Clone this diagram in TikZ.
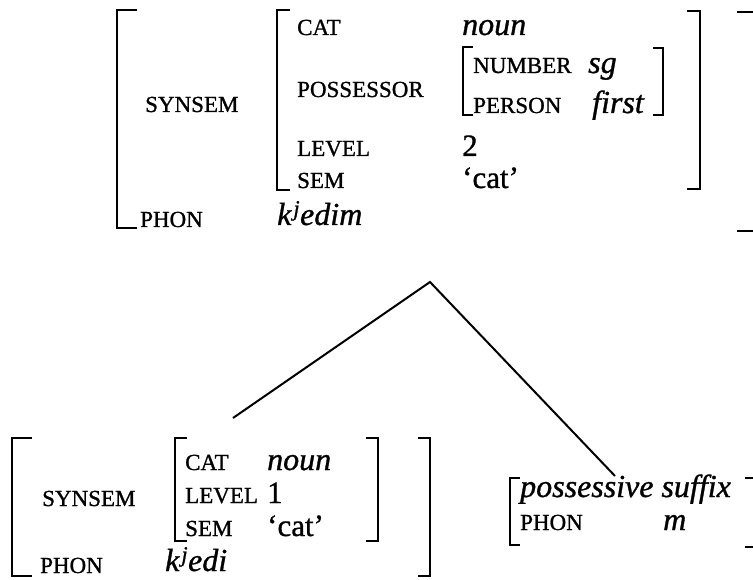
\documentclass[tikz,border=0pt]{standalone}
\usepackage{fontspec}
\setmainfont{Liberation Serif}[FakeBold=1]
\begin{document}
\begin{tikzpicture}[x=1pt, y=-1pt,
        lab/.style={anchor=base west, inner sep=0pt, font=\fontsize{23}{26}\selectfont},
        val/.style={anchor=base west, inner sep=0pt, font=\fontsize{32}{36}\selectfont\itshape},
        rom/.style={anchor=base west, inner sep=0pt, font=\fontsize{31}{34}\selectfont},
        brk/.style={line width=2.6pt},
        branch/.style={line width=2pt}]
        \useasboundingbox (0,0) rectangle (753,580);
        \clip (0,0) rectangle (753,580);
        % mother sign
        \node[lab] (synsem) at (145,112) {SYNSEM};
        \node[lab] (phon) at (140,227) {PHON};
        \node[val] (form) at (277,225) {k\kern2pt\textsuperscript{j}edim};
        \node[lab] (cat) at (297,35) {CAT};
        \node[lab] (poss) at (297,97) {POSSESSOR};
        \node[lab] (level) at (297,156) {LEVEL};
        \node[lab] (sem) at (297,188) {SEM};
        \node[val] (noun) at (462,35) {noun};
        \node[lab] (number) at (473,73) {NUMBER};
        \node[val] (sg) at (588,73) {sg};
        \node[lab] (person) at (473,113) {PERSON};
        \node[val] (first) at (592,113) {first};
        \node[rom] (two) at (462,156) {2};
        \node[rom] (meaning) at (462,188) {`cat'};
        % left brackets: x/top/bottom/tick
        \foreach \x/\t/\b/\w in {117/10/228/20, 277/10/190/13, 463/47/115/10, 12/438/576/20, 175/438/541/12, 510/478/545/10} {
            \draw[brk] (\x+\w,\t) -- (\x,\t) -- (\x,\b) -- (\x+\w,\b);
        }
        % right brackets
        \foreach \x/\t/\b/\w in {763/12/231/26, 700/11/189/13, 663/48/115/10, 430/438/576/12, 378/438/541/12, 763/478/547/18} {
            \draw[brk] (\x-\w,\t) -- (\x,\t) -- (\x,\b) -- (\x-\w,\b);
        }
        % stem daughter
        \node[lab] (synsem1) at (42,506) {SYNSEM};
        \node[lab] (phon1) at (40,573) {PHON};
        \node[val] (form1) at (165,571) {k\kern2pt\textsuperscript{j}edi};
        \node[lab] (cat1) at (185,470) {CAT};
        \node[lab] (level1) at (185,503) {LEVEL};
        \node[lab] (sem1) at (185,536) {SEM};
        \node[val] (noun1) at (267,470) {noun};
        \node[rom] (one) at (267,503) {1};
        \node[rom] (meaning1) at (267,536) {`cat'};
        % suffix daughter
        \node[val] (suffix) at (520,497) {possessive suffix};
        \node[lab] (phon2) at (520,530) {PHON};
        \node[val] (form2) at (663,530) {m};
        % branches
        \coordinate (mother) at (430,282);
        \coordinate (stem) at (233,418);
        \coordinate (affix) at (615,476);
        \draw[branch] (stem) -- (mother) -- (affix);
    \end{tikzpicture}
\end{document}
